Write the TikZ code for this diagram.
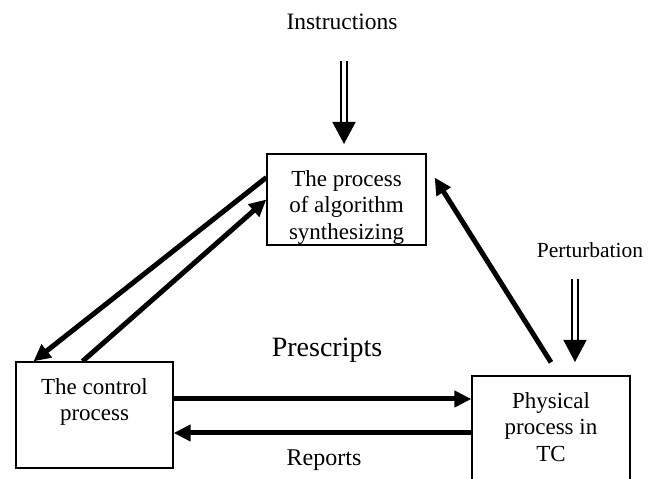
\documentclass[tikz,border=0pt]{standalone}
\usepackage{fontspec}
\setmainfont{Liberation Serif}
\usepackage{tikz}
\usetikzlibrary{arrows.meta}
\tikzstyle{procbox}=[draw,rectangle,line width=1.3pt,inner sep=0pt]
\tikzstyle{boxtext}=[align=center,anchor=north,inner sep=0pt,font=\fontsize{23}{26.5}\selectfont]
\tikzstyle{flow}=[draw,line width=5pt,-{Triangle[length=17pt,width=16pt]}]
\tikzstyle{input}=[draw,double,double distance=4.5pt,line width=1.5pt,-{Triangle[length=22pt,width=23pt]}]
\tikzstyle{caption}=[anchor=base,inner sep=0pt]

\begin{document}
\begin{tikzpicture}[x=1pt,y=1pt]
    \useasboundingbox (0,0) rectangle (656,479);
    \clip (0,0) rectangle (656,479);

    % the three process blocks
    \foreach \pos/ \name / \w / \h in {{(346.5,279.5)/algo/159/91}, {(94.5,64)/ctrl/157/106}, {(551,48)/phys/158/110}}
        \node[procbox,minimum width=\w pt,minimum height=\h pt] (\name) at \pos {};
    \foreach \name / \label in {algo/{The process\\of algorithm\\synthesizing}, ctrl/{The control\\process}, phys/{Physical\\process in\\TC}}
        \node[boxtext] (\name-txt) at ([yshift=-16.5pt]\name.north) {\label};

    % outside inputs
    \node[caption,font=\fontsize{23.5}{28}\selectfont] (instr) at (342,449) {Instructions};
    \node[caption,font=\fontsize{21.5}{25}\selectfont] (pert) at (590,221) {Perturbation};
    \coordinate (instr-from) at (344,418);
    \coordinate (instr-to) at (344,335);
    \coordinate (pert-from) at (575,200);
    \coordinate (pert-to) at (575,117);
    \draw[input] (instr-from) -- (instr-to);
    \draw[input] (pert-from) -- (pert-to);

    % links between the blocks
    \draw[flow] ([yshift=22pt]algo.west) -- ([xshift=-61pt]ctrl.north);
    \draw[flow] ([xshift=-12pt]ctrl.north) -- (algo.west);
    \draw[flow] ([yshift=13pt]phys.north) -- ([shift={(8pt,22pt)}]algo.east);
    \draw[flow] ([yshift=16pt]ctrl.east) -- ([yshift=32pt]phys.west);
    \draw[flow] ([yshift=-2pt]phys.west) -- ([yshift=-18pt]ctrl.east);

    \node[caption,font=\fontsize{28}{33}\selectfont] (prescr) at (327,122) {Prescripts};
    \node[caption,font=\fontsize{24}{28}\selectfont] (reports) at (324,13) {Reports};
\end{tikzpicture}
\end{document}
